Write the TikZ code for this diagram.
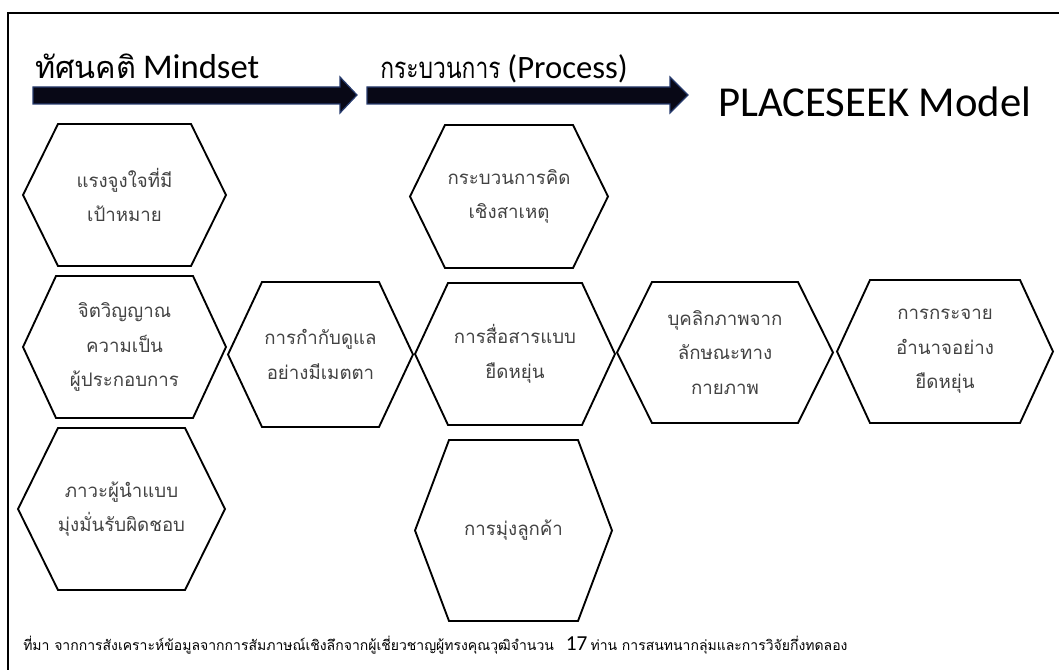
\documentclass[tikz,border=0pt]{standalone}
\usepackage{fontspec}
\setmainfont{Carlito}
\newfontfamily\thai[Script=Thai]{Loma}
\newfontfamily\thainarrow[Script=Thai,FakeStretch=0.78]{Loma}
\newfontfamily\latin{Carlito}

\definecolor{arrowfill}{RGB}{8,8,22}
\definecolor{arrowedge}{RGB}{40,60,110}
\definecolor{celltext}{RGB}{66,66,66}

\tikzset{
  bigarrow/.style={fill=arrowfill, draw=arrowedge, line width=0.9pt, line join=miter},
  hexline/.style={draw=black, line width=1.4pt, line join=miter},
  hextext/.style={align=center, text=celltext, inner sep=0pt,
    font=\thai\fontsize{14}{26}\selectfont},
  heading/.style={anchor=base west, inner sep=0pt, text=black},
}

% hexagon: name, left, right, top, bottom, inset, label
\newcommand\hexcell[7]{%
  \draw[hexline] (#2,{(#4+#5)/2}) -- ({#2+#6},#4) -- ({#3-#6},#4)
    -- (#3,{(#4+#5)/2}) -- ({#3-#6},#5) -- ({#2+#6},#5) -- cycle;
  \node[hextext] (#1) at ({(#2+#3)/2},{(#4+#5)/2}) {#7};}

% thick block arrow: start x, head base x, tip x
\newcommand\blockarrow[3]{%
  \draw[bigarrow] (#1,87) -- (#2,87) -- (#2,77) -- (#3,95)
    -- (#2,113) -- (#2,104) -- (#1,104) -- cycle;}

\begin{document}
\begin{tikzpicture}[x=0.75pt, y=-0.75pt]
\useasboundingbox (0,0) rectangle (1059,670);

% page frame
\draw[line width=2.2pt] (8,672) -- (8,13) -- (1061,13);

% headings and arrows
\node[heading] (mindset) at (35,79)
  {{\thai\fontsize{23}{26}\selectfont ทัศนคติ}\hspace{5pt}{\latin\fontsize{26}{28}\selectfont Mindset}};
\node[heading] (process) at (380,79)
  {{\thainarrow\fontsize{22}{26}\selectfont กระบวนการ}\hspace{5pt}{\latin\fontsize{24.5}{26}\selectfont (Process)}};
\node[heading] (model) at (718,117)
  {\latin\fontsize{32}{36}\selectfont PLACESEEK Model};
\blockarrow{33}{340}{357}
\blockarrow{367}{670}{688}

% mindset column
\hexcell{motiv}{23}{226}{124}{266}{35}{แรงจูงใจที่มี\\เป้าหมาย}
\hexcell{spirit}{23}{226}{276}{418}{33}{จิตวิญญาณ\\ความเป็น\\ผู้ประกอบการ}
\hexcell{lead}{18}{225}{428}{590}{40}{ภาวะผู้นำแบบ\\มุ่งมั่นรับผิดชอบ}

% process cells
\hexcell{care}{228}{413}{282}{427}{34}{การกำกับดูแล\\อย่างมีเมตตา}
\hexcell{cause}{410}{608}{125}{268}{35}{กระบวนการคิด\\เชิงสาเหตุ}
\hexcell{comm}{415}{615}{283}{425}{33}{การสื่อสารแบบ\\ยืดหยุ่น}
\hexcell{cust}{415}{612}{440}{621}{34}{การมุ่งลูกค้า}
\hexcell{person}{617}{833}{282}{423}{35}{บุคลิกภาพจาก\\ลักษณะทาง\\กายภาพ}
\hexcell{power}{837}{1053}{280}{423}{33}{การกระจาย\\อำนาจอย่าง\\ยืดหยุ่น}

% source note
\node[anchor=west, inner sep=0pt, text=black] (source) at (23,645)
  {{\thai\fontsize{10.5}{12}\selectfont ที่มา จากการสังเคราะห์ข้อมูลจากการสัมภาษณ์เชิงลึกจากผู้เชี่ยวชาญผู้ทรงคุณวุฒิจำนวน}\hspace{9pt}{\latin\fontsize{16}{16}\selectfont 17} {\thai\fontsize{10.5}{12}\selectfont ท่าน การสนทนากลุ่มและการวิจัยกึ่งทดลอง}};
\end{tikzpicture}
\end{document}
